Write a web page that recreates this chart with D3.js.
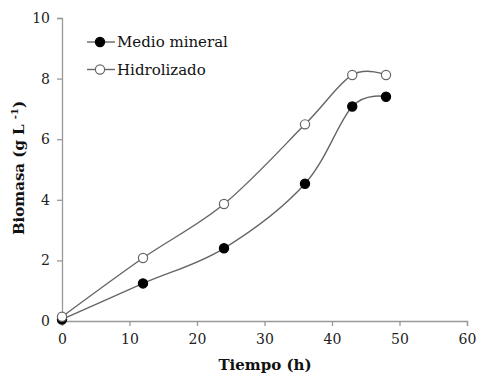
<!DOCTYPE html>
<html>
<head>
<meta charset="utf-8">
<script src="https://cdn.jsdelivr.net/npm/d3@7"></script>
<style>
  body { margin: 0; background: #fff; }
  text { font-family: "DejaVu Serif", "Liberation Serif", serif; }
</style>
</head>
<body>
<div id="okvir"></div>
<script>
// Datos
var tiempo = [0, 12, 24, 36, 43, 48];
var medioMineral = [0.05, 1.24, 2.40, 4.53, 7.08, 7.40];
var hidrolizado = [0.14, 2.08, 3.86, 6.49, 8.12, 8.12];
var xTicks = [0, 10, 20, 30, 40, 50, 60];
var yTicks = [0, 2, 4, 6, 8, 10];
var series = [
    { name: "Medio mineral", values: medioMineral, fill: "#000", stroke: "#000" },
    { name: "Hidrolizado", values: hidrolizado, fill: "#fff", stroke: "#666" }
];

var width = 490, height = 381;
var margin = { top: 18, right: 23, bottom: 60, left: 62 };

var svg = d3.select("#okvir").append("svg")
    .attr("width", width)
    .attr("height", height);

var x = d3.scaleLinear().domain([0, 60]).range([margin.left, width - margin.right]);
var y = d3.scaleLinear().domain([0, 10]).range([height - margin.bottom, margin.top]);

// eje x
var gx = svg.append("g")
    .attr("transform", "translate(0," + y(0) + ")")
    .call(d3.axisBottom(x).tickValues(xTicks).tickSize(5).tickPadding(8).tickFormat(d3.format("d")));
gx.select(".domain").attr("stroke", "#999").attr("stroke-width", 1.3);
gx.selectAll(".tick line").attr("stroke", "#999").attr("stroke-width", 1.3);
gx.selectAll("text").style("font-size", "14px").attr("fill", "#222");

// eje y
var gy = svg.append("g")
    .attr("transform", "translate(" + x(0) + ",0)")
    .call(d3.axisLeft(y).tickValues(yTicks).tickSize(5).tickPadding(7).tickFormat(d3.format("d")));
gy.select(".domain").attr("stroke", "#999").attr("stroke-width", 1.3);
gy.selectAll(".tick line").attr("stroke", "#999").attr("stroke-width", 1.3);
gy.selectAll("text").style("font-size", "14px").attr("fill", "#222");

// titulos de ejes
svg.append("text")
    .attr("x", 265)
    .attr("y", 370)
    .attr("text-anchor", "middle")
    .style("font-size", "15px")
    .style("font-weight", "bold")
    .attr("fill", "#111")
    .text("Tiempo (h)");

var yt = svg.append("text")
    .attr("transform", "translate(24,168) rotate(-90)")
    .attr("text-anchor", "middle")
    .style("font-size", "15px")
    .style("font-weight", "bold")
    .attr("fill", "#111");
yt.append("tspan").text("Biomasa (g  L ");
yt.append("tspan").attr("dy", -6).style("font-size", "10px").text("-1");
yt.append("tspan").attr("dy", 6).text(")");

// lineas
var line = d3.line()
    .x((d, i) => x(tiempo[i]))
    .y(d => y(d))
    .curve(d3.curveCatmullRom.alpha(0));

series.forEach(function (s) {
    svg.append("path")
        .datum(s.values)
        .attr("d", line)
        .attr("fill", "none")
        .attr("stroke", "#666")
        .attr("stroke-width", 1.4);
});

series.forEach(function (s) {
    svg.append("g").selectAll("circle")
        .data(s.values)
        .enter()
        .append("circle")
        .attr("cx", (d, i) => x(tiempo[i]))
        .attr("cy", d => y(d))
        .attr("r", 4.6)
        .attr("fill", s.fill)
        .attr("stroke", s.stroke)
        .attr("stroke-width", 1.2);
});

// leyenda
var legend = svg.append("g");
series.forEach(function (s, i) {
    var ly = 42 + i * 27.5;
    legend.append("line")
        .attr("x1", 87).attr("x2", 115)
        .attr("y1", ly).attr("y2", ly)
        .attr("stroke", "#666").attr("stroke-width", 1.4);
    legend.append("circle")
        .attr("cx", 100).attr("cy", ly).attr("r", 4.6)
        .attr("fill", s.fill).attr("stroke", s.stroke).attr("stroke-width", 1.2);
    legend.append("text")
        .attr("x", 117).attr("y", ly + 5)
        .style("font-size", "15px")
        .attr("fill", "#111")
        .text(s.name);
});
</script>
</body>
</html>
